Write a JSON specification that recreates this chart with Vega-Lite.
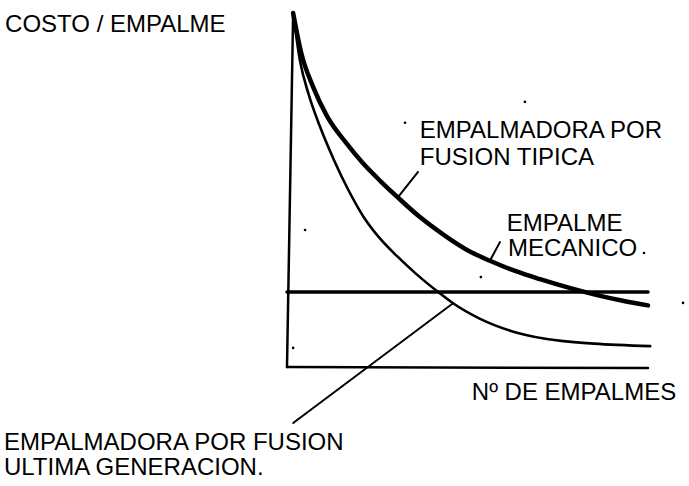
{
  "$schema": "https://vega.github.io/schema/vega-lite/v6.json",
  "width": 361,
  "height": 354,
  "autosize": {"type": "none"},
  "padding": {"left": 287, "top": 13, "right": 41, "bottom": 119},
  "background": "white",
  "config": {"view": {"stroke": null}},
  "datasets": {
    "curves": [
      {"series": "tipica", "x": 1.7, "y": 100},
      {"series": "tipica", "x": 4.0, "y": 88.5},
      {"series": "tipica", "x": 7.2, "y": 79.2},
      {"series": "tipica", "x": 11.0, "y": 71.0},
      {"series": "tipica", "x": 16.6, "y": 63.0},
      {"series": "tipica", "x": 21.0, "y": 57.6},
      {"series": "tipica", "x": 25.8, "y": 52.6},
      {"series": "tipica", "x": 30.7, "y": 47.9},
      {"series": "tipica", "x": 37.0, "y": 42.2},
      {"series": "tipica", "x": 44.3, "y": 36.7},
      {"series": "tipica", "x": 50.0, "y": 33.0},
      {"series": "tipica", "x": 56.2, "y": 30.0},
      {"series": "tipica", "x": 63.0, "y": 27.2},
      {"series": "tipica", "x": 70.1, "y": 24.8},
      {"series": "tipica", "x": 78.0, "y": 22.4},
      {"series": "tipica", "x": 85.9, "y": 20.3},
      {"series": "tipica", "x": 93.0, "y": 18.7},
      {"series": "tipica", "x": 100, "y": 17.4},
      {"series": "ultima", "x": 1.7, "y": 100},
      {"series": "ultima", "x": 3.6, "y": 86.5},
      {"series": "ultima", "x": 6.0, "y": 77.0},
      {"series": "ultima", "x": 9.1, "y": 68.0},
      {"series": "ultima", "x": 13.0, "y": 58.5},
      {"series": "ultima", "x": 17.0, "y": 50.0},
      {"series": "ultima", "x": 21.1, "y": 42.6},
      {"series": "ultima", "x": 25.5, "y": 36.6},
      {"series": "ultima", "x": 30.5, "y": 31.3},
      {"series": "ultima", "x": 36.0, "y": 26.1},
      {"series": "ultima", "x": 41.6, "y": 21.4},
      {"series": "ultima", "x": 46.0, "y": 18.0},
      {"series": "ultima", "x": 53.5, "y": 13.6},
      {"series": "ultima", "x": 62.0, "y": 10.2},
      {"series": "ultima", "x": 72.0, "y": 7.9},
      {"series": "ultima", "x": 85.0, "y": 6.6},
      {"series": "ultima", "x": 100.6, "y": 5.9}
    ],
    "segments": [
      {"name": "eje y", "kind": "axis", "x": 0, "y": 0, "x2": 1.7, "y2": 100},
      {"name": "eje x", "kind": "axis", "x": 0, "y": 0, "x2": 100, "y2": -0.3},
      {"name": "mecanico", "kind": "mecanico", "x": 0, "y": 21.2, "x2": 100, "y2": 21.2},
      {"name": "guia tipica", "kind": "leader", "x": 36.3, "y": 55.1, "x2": 30.7, "y2": 47.9},
      {"name": "guia mecanico", "kind": "leader", "x": 59.0, "y": 35.3, "x2": 56.2, "y2": 30.0},
      {"name": "guia ultima", "kind": "leader", "x": 1.7, "y": -15.8, "x2": 46.0, "y2": 18.0}
    ],
    "labels": [
      {"text": "COSTO / EMPALME", "x": -78.1, "y": 94.6},
      {"text": "EMPALMADORA POR", "x": 36.8, "y": 64.7},
      {"text": "FUSION TIPICA", "x": 36.8, "y": 57.1},
      {"text": "EMPALME", "x": 60.9, "y": 38.4},
      {"text": "MECANICO", "x": 61.2, "y": 31.3},
      {"text": "Nº DE EMPALMES", "x": 51.2, "y": -9.3},
      {"text": "EMPALMADORA POR FUSION", "x": -78.4, "y": -23.4},
      {"text": "ULTIMA GENERACION.", "x": -78.4, "y": -30.5}
    ],
    "arrowheads": [
      {"x": 2.8, "y": -14.95}
    ],
    "specks": [
      {"x": 65.9, "y": 74.9},
      {"x": 32.7, "y": 69.0},
      {"x": 98.9, "y": 32.2},
      {"x": 53.7, "y": 25.4},
      {"x": 5.0, "y": 38.7},
      {"x": 1.7, "y": 5.4},
      {"x": 109.7, "y": 18.1}
    ]
  },
  "layer": [
    {
      "data": {"name": "segments"},
      "transform": [{"filter": "datum.kind == 'axis'"}],
      "mark": {"type": "rule", "color": "black", "strokeWidth": 2.5, "strokeCap": "round"},
      "encoding": {
        "x": {"field": "x", "type": "quantitative", "scale": {"domain": [0, 100], "nice": false, "zero": false}, "axis": null},
        "y": {"field": "y", "type": "quantitative", "scale": {"domain": [0, 100], "nice": false, "zero": false}, "axis": null},
        "x2": {"field": "x2"},
        "y2": {"field": "y2"}
      }
    },
    {
      "data": {"name": "segments"},
      "transform": [{"filter": "datum.kind == 'mecanico'"}],
      "mark": {"type": "rule", "color": "black", "strokeWidth": 3.5, "strokeCap": "round"},
      "encoding": {
        "x": {"field": "x", "type": "quantitative"},
        "y": {"field": "y", "type": "quantitative"},
        "x2": {"field": "x2"},
        "y2": {"field": "y2"}
      }
    },
    {
      "data": {"name": "segments"},
      "transform": [{"filter": "datum.kind == 'leader'"}],
      "mark": {"type": "rule", "color": "black", "strokeWidth": 2, "strokeCap": "round"},
      "encoding": {
        "x": {"field": "x", "type": "quantitative"},
        "y": {"field": "y", "type": "quantitative"},
        "x2": {"field": "x2"},
        "y2": {"field": "y2"}
      }
    },
    {
      "data": {"name": "curves"},
      "transform": [{"filter": "datum.series == 'tipica'"}],
      "mark": {"type": "line", "interpolate": "monotone", "color": "black", "strokeWidth": 4.5, "strokeCap": "round"},
      "encoding": {
        "x": {"field": "x", "type": "quantitative"},
        "y": {"field": "y", "type": "quantitative"},
        "order": {"field": "x", "type": "quantitative"}
      }
    },
    {
      "data": {"name": "curves"},
      "transform": [{"filter": "datum.series == 'ultima'"}],
      "mark": {"type": "line", "interpolate": "monotone", "color": "black", "strokeWidth": 2.6, "strokeCap": "round"},
      "encoding": {
        "x": {"field": "x", "type": "quantitative"},
        "y": {"field": "y", "type": "quantitative"},
        "order": {"field": "x", "type": "quantitative"}
      }
    },
    {
      "data": {"name": "arrowheads"},
      "mark": {"type": "point", "shape": "wedge", "filled": true, "color": "black", "opacity": 1, "size": 50, "angle": 233.6},
      "encoding": {
        "x": {"field": "x", "type": "quantitative"},
        "y": {"field": "y", "type": "quantitative"}
      }
    },
    {
      "data": {"name": "specks"},
      "mark": {"type": "point", "shape": "circle", "filled": true, "color": "black", "opacity": 1, "size": 7},
      "encoding": {
        "x": {"field": "x", "type": "quantitative"},
        "y": {"field": "y", "type": "quantitative"}
      }
    },
    {
      "data": {"name": "labels"},
      "mark": {"type": "text", "align": "left", "baseline": "alphabetic", "font": "Liberation Sans", "fontSize": 24, "color": "black"},
      "encoding": {
        "x": {"field": "x", "type": "quantitative"},
        "y": {"field": "y", "type": "quantitative"},
        "text": {"field": "text", "type": "nominal"}
      }
    }
  ]
}
